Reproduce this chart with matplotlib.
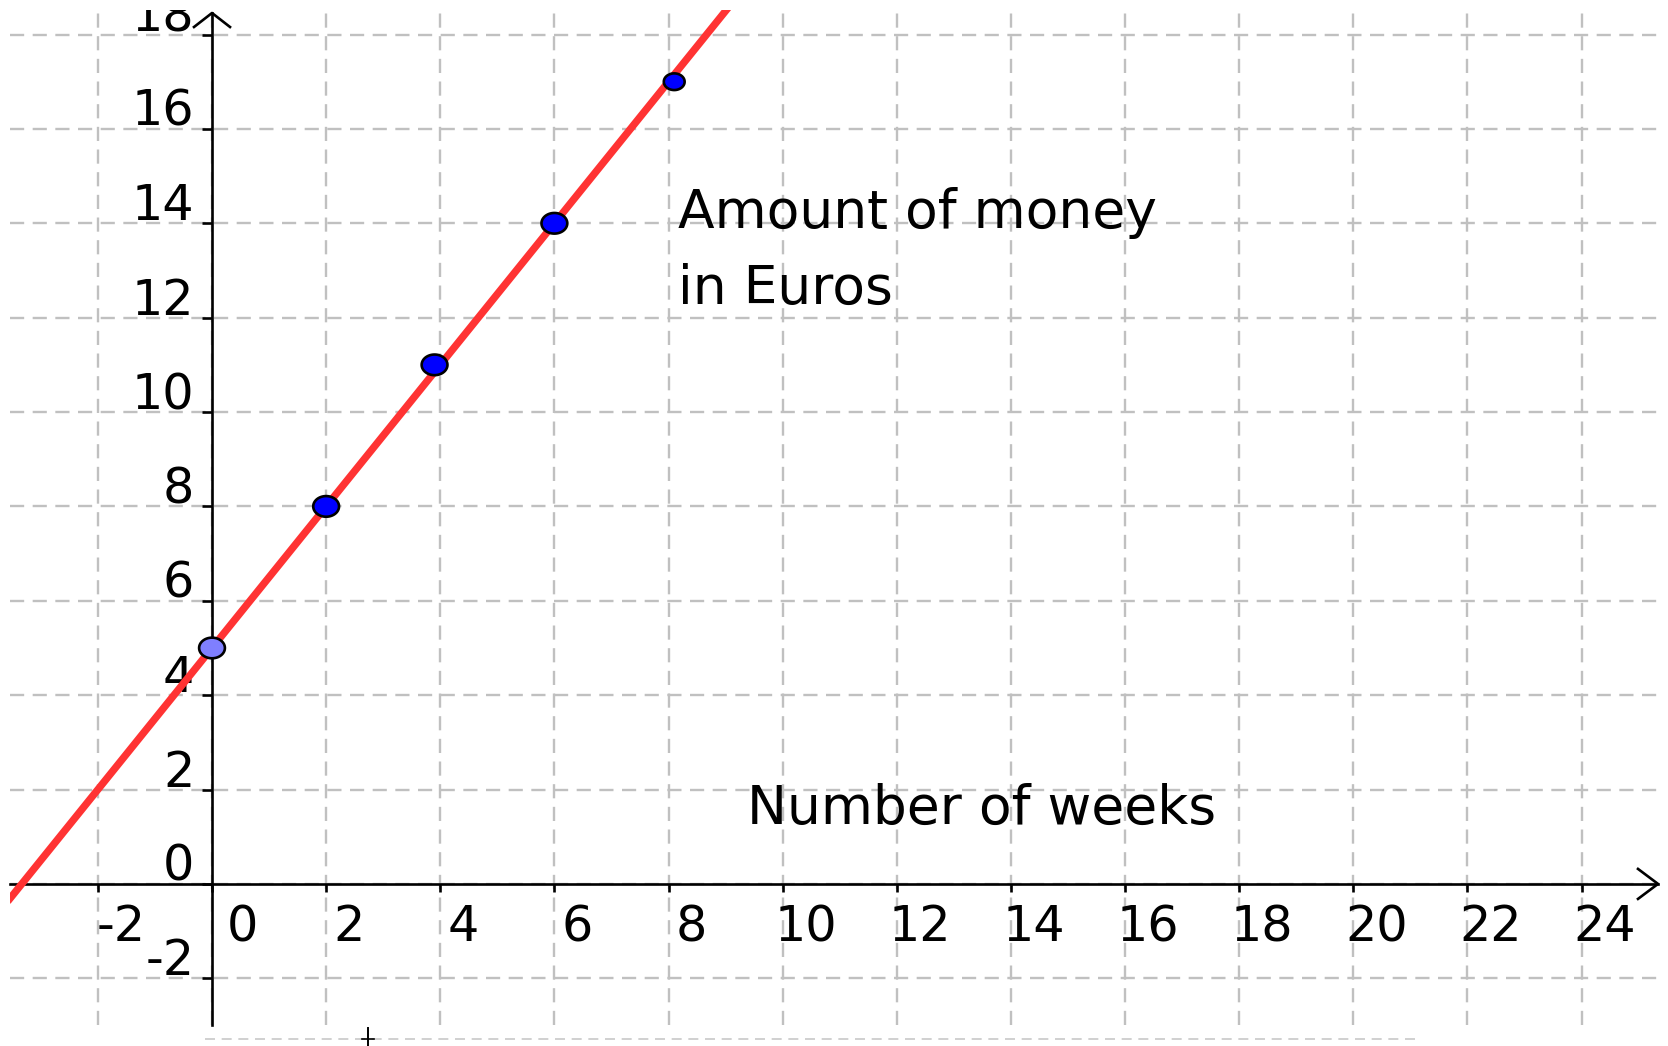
import numpy as np
import matplotlib
matplotlib.use("Agg")
from matplotlib import pyplot as plt
from matplotlib.transforms import ScaledTranslation
from matplotlib.path import Path
from matplotlib.lines import Line2D

# points (weeks, euros)
weeks = [0, 2, 3.9, 6, 8.1]
money = [5, 8, 11, 14, 17]
# red line through the points
line_intercept = 5
line_slope = 1.5

x_ticks = [-2, 0, 2, 4, 6, 8, 10, 12, 14, 16, 18, 20, 22, 24]
x_tick_labels = ["-2", "0", "2", "4", "6", "8", "10", "12", "14", "16", "18", "20", "22", "24"]
y_ticks = [-2, 0, 2, 4, 6, 8, 10, 12, 14, 16, 18]
y_tick_labels = ["-2", "0", "2", "4", "6", "8", "10", "12", "14", "16", "18"]

W, H = 1668, 1046
fig = plt.figure(figsize=(W / 100, H / 100), dpi=100)
ax_l, ax_b, ax_w, ax_h = 10, 21, 1648, 1015
ax = fig.add_axes([ax_l / W, ax_b / H, ax_w / W, ax_h / H])
xmin, xmax = -3.54, 25.34
ymin, ymax = -2.99, 18.52
ax.set_xlim(xmin, xmax)
ax.set_ylim(ymin, ymax)
sx = ax_w / (xmax - xmin)
sy = ax_h / (ymax - ymin)

for side in ["top", "right"]:
    ax.spines[side].set_visible(False)
ax.spines["left"].set_position("zero")
ax.spines["bottom"].set_position("zero")
for side in ["left", "bottom"]:
    ax.spines[side].set_linewidth(1.9)
    ax.spines[side].set_color("black")
tip = ymax - 3 / sy
ax.spines["left"].set_bounds(ymin, tip)

ax.set_xticks(x_ticks, x_tick_labels)
ax.set_yticks(y_ticks, y_tick_labels)
ax.tick_params(axis="x", direction="out", length=5.8, width=1.9, pad=8.3, labelsize=35.5)
ax.tick_params(axis="y", direction="out", length=7.2, width=1.9, pad=5.6, labelsize=35.5)

for lab in ax.get_xticklabels():
    dx = 30 if lab.get_text() == "0" else 23
    lab.set_transform(lab.get_transform() + ScaledTranslation(dx / 100, 0, fig.dpi_scale_trans))
for lab in ax.get_yticklabels():
    lab.set_transform(lab.get_transform() + ScaledTranslation(0, 22 / 100, fig.dpi_scale_trans))
    lab.set_clip_box(ax.bbox)
    lab.set_clip_on(True)

ax.grid(True, color="#c0c0c0", linestyle=(0, (6.0, 3.6)), linewidth=1.7)
ax.set_axisbelow(True)

# axis arrows
ax.plot([xmax - 20 / sx, xmax, xmax - 20 / sx], [15 / sy, 0, -15 / sy],
        color="black", lw=1.9, clip_on=False, zorder=5)
ax.plot([-18 / sx, 0, 18 / sx], [tip - 14 / sy, tip, tip - 14 / sy],
        color="black", lw=1.9, clip_on=False, zorder=5)

# red line
ax.axline((0, line_intercept), slope=line_slope, color="#ff3333", lw=5.3, zorder=3)

# elliptic point markers
t = np.linspace(0, 2 * np.pi, 80)
ellipse = Path(np.column_stack([np.cos(t), 0.8 * np.sin(t)]), closed=True)
ax.scatter(weeks, money, marker=ellipse, s=[345, 345, 345, 345, 225],
           c=["#7f7fff", "#0000ff", "#0000ff", "#0000ff", "#0000ff"],
           edgecolors="black", linewidths=1.9, zorder=4)

ax.text(8.17, 13.9, "Amount of money", fontsize=38.5, va="baseline")
ax.text(8.17, 12.3, "in Euros", fontsize=38.5, va="baseline")
ax.text(9.37, 1.27, "Number of weeks", fontsize=38.5, va="baseline")

# leftover strip at the very bottom of the screenshot
yb = 1 - 1039 / H
fig.add_artist(Line2D([205 / W, 1415 / W], [yb, yb], transform=fig.transFigure,
                      color="#c8c8c8", lw=1.2, linestyle=(0, (6, 4))))
fig.add_artist(Line2D([368 / W, 368 / W], [1 - 1028 / H, 0], transform=fig.transFigure,
                      color="black", lw=1.4))
fig.add_artist(Line2D([362 / W, 374 / W], [yb, yb], transform=fig.transFigure,
                      color="black", lw=1.2))

fig.savefig("out.png", dpi=100)
